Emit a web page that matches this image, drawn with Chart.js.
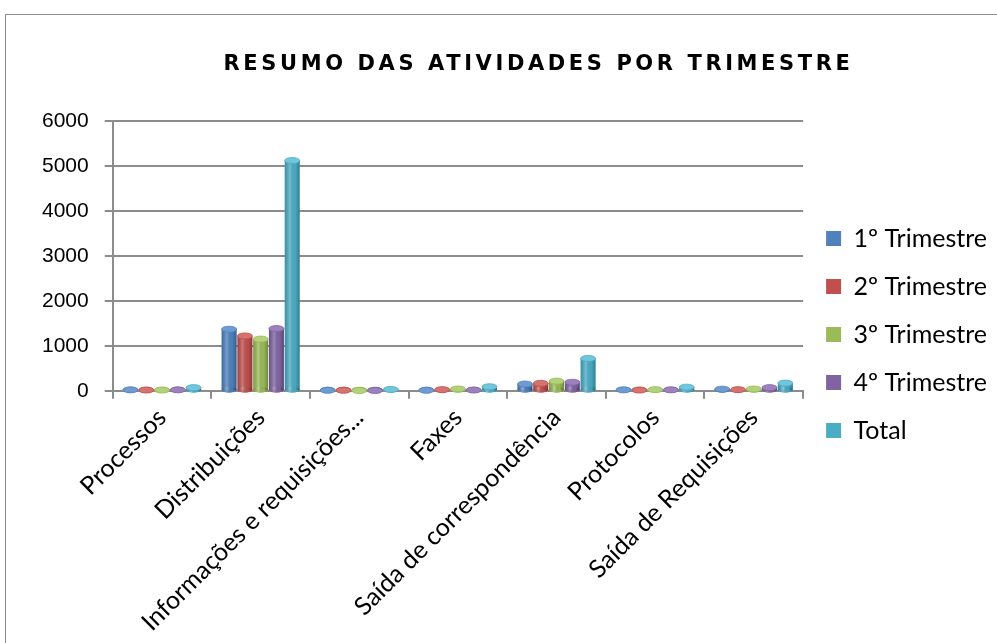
<!DOCTYPE html>
<html>
<head>
<meta charset="utf-8">
<script src="https://cdn.jsdelivr.net/npm/chart.js@4"></script>
<style>
  html, body { margin: 0; padding: 0; background: #fff; }
  body { width: 997px; height: 643px; overflow: hidden; position: relative; }
  #frame { position: absolute; left: 5px; top: 14px; width: 1100px; height: 700px; border: 1.5px solid #8c8c8c; }
  #wrap { position: absolute; left: 0; top: 0; width: 997px; height: 643px; }
</style>
</head>
<body>
<div id="frame"></div>
<div id="wrap"><canvas id="chart"></canvas></div>
<script>
// Resumo das atividades por trimestre
const categories = ['Processos', 'Distribuições', 'Informações e requisições...', 'Faxes',
  'Saída de correspondência', 'Protocolos', 'Saída de Requisições'];
const seriesNames = ['1º Trimestre', '2º Trimestre', '3º Trimestre', '4º Trimestre', 'Total'];
const q1 = [20, 1370, 10, 10, 150, 20, 35];
const q2 = [15, 1220, 10, 25, 165, 15, 25];
const q3 = [15, 1150, 5, 40, 215, 25, 40];
const q4 = [20, 1385, 5, 15, 190, 20, 70];
const total = [70, 5125, 30, 90, 720, 80, 170];
const yTicks = [0, 1000, 2000, 3000, 4000, 5000, 6000];

const colors = ['#4F81BD', '#C0504D', '#9BBB59', '#8064A2', '#4BACC6'];
const capColors = ['#6f9bd3', '#d67370', '#b3d07a', '#9c82bd', '#72c6dc'];

// fake cylinder shading + elliptical caps on every bar
const cylinderPlugin = {
  id: 'cylinder',
  afterDatasetsDraw(chart) {
    const ctx = chart.ctx;
    chart.data.datasets.forEach((ds, i) => {
      const meta = chart.getDatasetMeta(i);
      meta.data.forEach(bar => {
        const { x, y, base, width } = bar.getProps(['x', 'y', 'base', 'width'], true);
        const l = x - width / 2;
        const g = ctx.createLinearGradient(l, 0, l + width, 0);
        g.addColorStop(0, 'rgba(0,0,0,0.18)');
        g.addColorStop(0.35, 'rgba(255,255,255,0.22)');
        g.addColorStop(0.7, 'rgba(0,0,0,0.02)');
        g.addColorStop(1, 'rgba(0,0,0,0.28)');
        ctx.save();
        ctx.beginPath();
        ctx.ellipse(x, base, width / 2, 3, 0, 0, Math.PI * 2);
        ctx.fillStyle = ds.backgroundColor;
        ctx.fill();
        ctx.fillStyle = g;
        ctx.fillRect(l, y, width, base - y);
        ctx.fill();
        ctx.beginPath();
        ctx.ellipse(x, y, width / 2, 3, 0, 0, Math.PI * 2);
        ctx.fillStyle = capColors[i];
        ctx.fill();
        ctx.lineWidth = 0.8;
        ctx.strokeStyle = ds.backgroundColor;
        ctx.stroke();
        ctx.restore();
      });
    });
  }
};

// the original title is a wide black face; widen ours with letter spacing
// and nudge it right, since the chart object is wider than the visible crop
const titleLook = {
  id: 'titleLook',
  afterLayout(chart) {
    const t = chart.titleBlock;
    if (!t || t._wrapped) return;
    const draw = t.draw.bind(t);
    t.draw = function () {
      const ctx = chart.ctx;
      ctx.save();
      ctx.letterSpacing = '3.6px';
      ctx.translate(27, 0);
      draw();
      ctx.restore();
    };
    t._wrapped = true;
  }
};

const datasets = [q1, q2, q3, q4, total].map((values, i) => ({
  label: seriesNames[i],
  data: values,
  backgroundColor: colors[i],
  borderWidth: 0,
  categoryPercentage: 0.8,
  barPercentage: 0.95,
}));

new Chart(document.getElementById('chart'), {
  type: 'bar',
  data: { labels: categories, datasets },
  plugins: [cylinderPlugin, titleLook],
  options: {
    responsive: true,
    maintainAspectRatio: false,
    animation: false,
    layout: { padding: { left: 26, right: 0, bottom: 2 } },
    plugins: {
      title: {
        display: true,
        text: 'RESUMO DAS ATIVIDADES POR TRIMESTRE',
        color: '#000',
        font: { family: 'DejaVu Sans', size: 21, weight: 'bold' },
        padding: { top: 52, bottom: 44 },
      },
      legend: {
        position: 'right',
        title: { display: true, text: ' ', font: { size: 10 }, padding: 8 },
        labels: {
          color: '#000',
          boxWidth: 15,
          boxHeight: 15,
          padding: 23,
          font: { family: 'Lato', size: 25 },
        },
      },
      tooltip: { enabled: false },
    },
    scales: {
      x: {
        grid: { display: true, drawOnChartArea: false, color: '#8c8c8c', lineWidth: 2, tickLength: 8 },
        border: { display: true, color: '#8c8c8c', width: 2 },
        ticks: {
          color: '#000',
          maxRotation: 45,
          minRotation: 45,
          autoSkip: false,
          padding: 4,
          font: { family: 'Lato', size: 25 },
        },
      },
      y: {
        min: 0,
        max: 6000,
        afterBuildTicks(axis) { axis.ticks = yTicks.map(v => ({ value: v })); },
        grid: { color: '#8c8c8c', lineWidth: 2, tickLength: 8 },
        border: { display: true, color: '#8c8c8c', width: 2 },
        ticks: {
          color: '#000',
          padding: 16,
          font: { family: 'Liberation Sans', size: 21 },
          callback: v => String(v),
        },
      },
    },
  },
});
</script>
</body>
</html>
